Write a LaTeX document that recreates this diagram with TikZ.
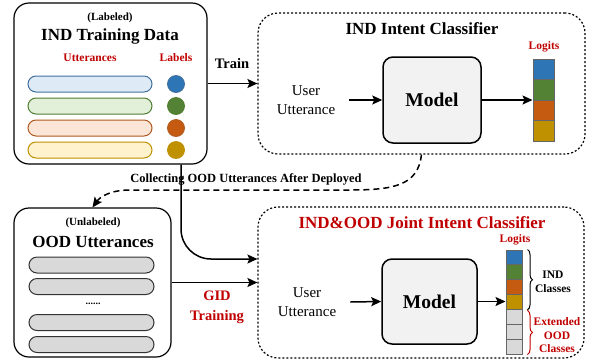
\documentclass[tikz,border=0pt]{standalone}
\usepackage{fontspec}
\setmainfont{Liberation Serif}
\usetikzlibrary{arrows.meta,decorations.pathreplacing,calc}
\definecolor{cblue}{HTML}{2E75B6}
\definecolor{cgreen}{HTML}{548235}
\definecolor{corange}{HTML}{C55A11}
\definecolor{cgold}{HTML}{BF9000}
\definecolor{cred}{HTML}{C00000}
\definecolor{pblue}{HTML}{DEEBF7}
\definecolor{pbluel}{HTML}{41719C}
\definecolor{pgreen}{HTML}{E2F0D9}
\definecolor{pgreenl}{HTML}{507E32}
\definecolor{porange}{HTML}{FBE5D6}
\definecolor{porangel}{HTML}{AE5A21}
\definecolor{pyellow}{HTML}{FFF2CC}
\definecolor{pyellowl}{HTML}{BF9000}
\definecolor{cgray}{HTML}{D9D9D9}
\definecolor{cellline}{HTML}{666666}
\definecolor{modelfill}{HTML}{F2F2F2}
\begin{document}
\begin{tikzpicture}[x=1pt,y=-1pt,
  bigbox/.style={draw, line width=1.2pt, rounded corners=15pt, fill=white},
  dotbox/.style={draw, line width=1.2pt, dash pattern=on 2pt off 2pt, rounded corners=20pt},
  modelbox/.style={draw, line width=1.5pt, fill=modelfill, rounded corners=10pt, font=\fontsize{19.5}{22}\selectfont\bfseries},
  pill/.style={draw, line width=1pt, rounded corners=8pt, minimum height=16pt, inner sep=0},
  lbldot/.style={circle, draw, line width=0.8pt, minimum size=17pt, inner sep=0},
  cell/.style={draw=cellline, line width=1pt, inner sep=0},
  conn/.style={line width=1.5pt, -{Stealth[length=10pt,width=9pt,inset=2pt]}},
  dconn/.style={line width=1.5pt, dash pattern=on 6pt off 4pt, -{Stealth[length=10pt,width=9pt,inset=2pt]}},
  title/.style={font=\fontsize{17}{20}\selectfont\bfseries},
  small/.style={font=\fontsize{11.5}{14}\selectfont\bfseries},
  userut/.style={font=\fontsize{15}{19}\selectfont, align=center, inner xsep=14pt},
]
\useasboundingbox (0,0) rectangle (589,360);

% ---------- IND Training Data ----------
\node[bigbox, minimum width=193pt, minimum height=161pt] (ind) at (110.5,83.5) {};
\node[font=\fontsize{11}{13}\selectfont\bfseries] (lab) at (110,18) {(Labeled)};
\node[title] (indt) at (110,36) {IND Training Data};
\node[small, text=cred] (utt) at (90,58) {Utterances};
\node[small, text=cred] (labs) at (176,58) {Labels};
\node[pill, minimum width=124pt, fill=pblue, draw=pbluel] (p1) at (90,84) {};
\node[pill, minimum width=124pt, fill=pgreen, draw=pgreenl] (p2) at (90,106) {};
\node[pill, minimum width=124pt, fill=porange, draw=porangel] (p3) at (90,128) {};
\node[pill, minimum width=124pt, fill=pyellow, draw=pyellowl] (p4) at (90,150) {};
\node[lbldot, fill=cblue, draw=pbluel] (d1) at (176,84) {};
\node[lbldot, fill=cgreen, draw=pgreenl] (d2) at (176,106) {};
\node[lbldot, fill=corange, draw=porangel] (d3) at (176,128) {};
\node[lbldot, fill=cgold, draw=pyellowl] (d4) at (176,150) {};

% ---------- IND Intent Classifier ----------
\node[dotbox, minimum width=327pt, minimum height=141pt] (indcls) at (421.5,83.5) {};
\node[title] (indclst) at (422,29) {IND Intent Classifier};
\node[modelbox, minimum width=98pt, minimum height=86pt] (m1) at (432,100) {Model};
\node[userut] (u1) at (306,100) {User\\Utterance};
\node[small, text=cred] (lg1) at (544,47) {Logits};
\node[cell, fill=cblue, minimum width=21pt, minimum height=20.5pt] (a1) at (543.5,69.25) {};
\node[cell, fill=cgreen, minimum width=21pt, minimum height=20.5pt] (a2) at (543.5,89.75) {};
\node[cell, fill=corange, minimum width=21pt, minimum height=20.5pt] (a3) at (543.5,110.25) {};
\node[cell, fill=cgold, minimum width=21pt, minimum height=20.5pt] (a4) at (543.5,130.75) {};
\draw[conn] (u1.east) -- (m1.west);
\draw[conn] (m1.east) -- (m1.east -| a2.west);

% Train arrow
\draw[conn] (ind.east) -- (indcls.west);
\node[font=\fontsize{14.5}{17}\selectfont\bfseries] (train) at (232,64) {Train};

% ---------- OOD Utterances ----------
\node[bigbox, minimum width=157pt, minimum height=149pt] (ood) at (92.5,282.5) {};
\node[font=\fontsize{11}{13}\selectfont\bfseries] (unl) at (93,223) {(Unlabeled)};
\node[title] (oodt) at (93,242) {OOD Utterances};
\node[pill, minimum width=125pt, fill=cgray, draw=black!80] (g1) at (91.5,265) {};
\node[pill, minimum width=125pt, fill=cgray, draw=black!80] (g2) at (91.5,286.5) {};
\node[font=\fontsize{10}{12}\selectfont\bfseries] (dots) at (93,304) {......};
\node[pill, minimum width=125pt, fill=cgray, draw=black!80] (g3) at (91.5,322.5) {};
\node[pill, minimum width=125pt, fill=cgray, draw=black!80] (g4) at (91.5,344.5) {};

% ---------- Joint classifier ----------
\node[dotbox, minimum width=326pt, minimum height=151pt] (joint) at (421,282.5) {};
\node[title, text=cred] (jointt) at (422,223) {IND\&OOD Joint Intent Classifier};
\node[modelbox, minimum width=95pt, minimum height=85pt] (m2) at (429.5,301.5) {Model};
\node[userut] (u2) at (307,302) {User\\Utterance};
\node[small, text=cred] (lg2) at (515,240) {Logits};
\foreach \c/\col in {1/cblue,2/cgreen,3/corange,4/cgold,5/cgray,6/cgray,7/cgray}{
  \node[cell, fill=\col, minimum width=16pt, minimum height=14.86pt] (b\c) at (514,{250+14.86*(\c-0.5)}) {};
}
\draw[conn] (u2.east) -- (m2.west);
\draw[conn] (m2.east) -- (m2.east -| b4.west);
\draw[line width=1pt, decorate, decoration={brace, amplitude=5pt}] ([xshift=5pt]b1.north east) -- ([xshift=5pt]b4.south east);
\draw[line width=1pt, cred, decorate, decoration={brace, amplitude=5pt}] ([xshift=5pt,yshift=-1.5pt]b5.north east) -- ([xshift=5pt]b7.south east);
\node[small, align=center, font=\fontsize{11.5}{14}\selectfont\bfseries] (indc) at (553,282) {IND\\Classes};
\node[small, align=center, text=cred, font=\fontsize{11.5}{13.5}\selectfont\bfseries] (extc) at (557,335.5) {Extended\\OOD\\Classes};

% ---------- connectors ----------
\draw[conn] (ood.east) -- (joint.west);
\node[font=\fontsize{14.5}{20}\selectfont\bfseries, text=cred, align=center] (gid) at (217,307) {GID\\Training};
\draw[conn, rounded corners=30pt] ([xshift=70.5pt]ind.south) |- ([yshift=23.5pt]joint.west);
\draw[dconn] (indcls.south) .. controls (418,185) and (395,190) .. (350,190) -- (130,190) .. controls (110,190) and (100,197) .. (ood.north);
\node[font=\fontsize{12.5}{15}\selectfont\bfseries] (coll) at (246,179) {Collecting OOD Utterances After Deployed};
\end{tikzpicture}
\end{document}
